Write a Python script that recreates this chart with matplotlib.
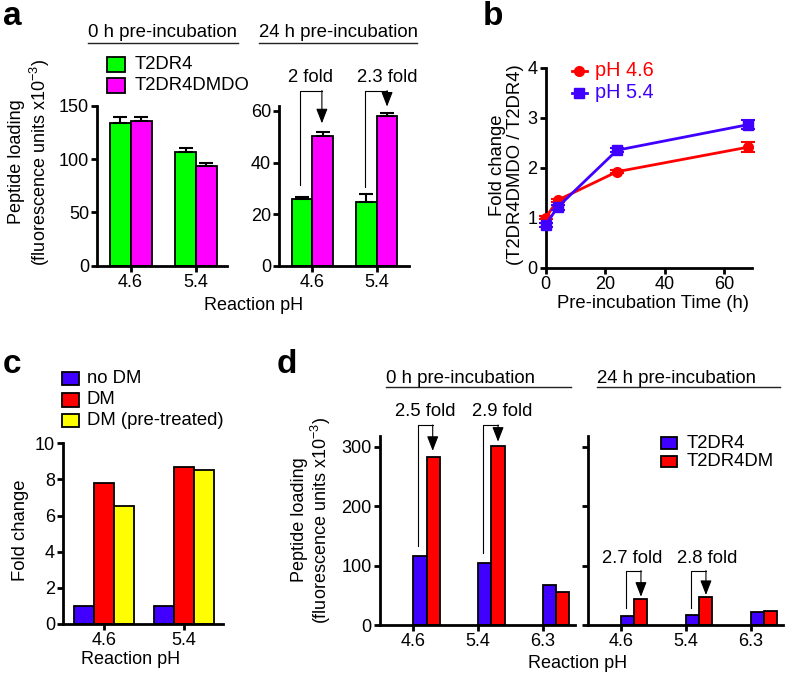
import matplotlib
matplotlib.use('Agg')
import matplotlib.pyplot as plt
import numpy as np
from matplotlib.patches import Rectangle

plt.rcParams['font.family'] = ['Liberation Sans', 'DejaVu Sans']
plt.rcParams['font.size'] = 13
plt.rcParams['mathtext.default'] = 'regular'

# ---------------- data ----------------
ph_ab = ['4.6', '5.4']
a0_t2dr4 = [134.3, 107.1]
a0_t2dr4_err = [5.4, 3.2]
a0_dmdo = [136.0, 93.6]
a0_dmdo_err = [3.7, 2.4]
a24_t2dr4 = [26.0, 24.6]
a24_t2dr4_err = [0.5, 3.3]
a24_dmdo = [50.2, 57.9]
a24_dmdo_err = [1.5, 1.5]
a24_folds = ['2 fold', '2.3 fold']

b_time = [0, 4, 24, 68]
b_ph46 = [1.0, 1.35, 1.92, 2.41]
b_ph46_err = [0.03, 0.03, 0.03, 0.10]
b_ph54 = [0.86, 1.21, 2.35, 2.86]
b_ph54_err = [0.04, 0.05, 0.04, 0.09]

c_ph = ['4.6', '5.4']
c_nodm = [1.0, 1.0]
c_dm = [7.8, 8.7]
c_dmpre = [6.55, 8.55]

d_ph = ['4.6', '5.4', '6.3']
d0_t2dr4 = [116, 104, 67]
d0_dm = [282, 302, 56]
d24_t2dr4 = [15, 17, 22.5]
d24_dm = [43, 46.5, 23.5]
d0_folds = ['2.5 fold', '2.9 fold']
d24_folds = ['2.7 fold', '2.8 fold']

GREEN = '#00FF00'
MAGENTA = '#FF00FF'
RED = '#FF0000'
BLUE = '#3F00FF'
YELLOW = '#FFFF00'

W, H = 787, 675
fig = plt.figure(figsize=(W / 100, H / 100), dpi=100)


def add_ax(x0, x1, ytop, ybot):
    return fig.add_axes([x0 / W, 1 - ybot / H, (x1 - x0) / W, (ybot - ytop) / H])


def style(ax):
    for s in ['top', 'right']:
        ax.spines[s].set_visible(False)
    for s in ['left', 'bottom']:
        ax.spines[s].set_linewidth(2)
    ax.tick_params(width=2, length=4, direction='out', labelsize=13, pad=2)


BAR_KW = dict(edgecolor='black', linewidth=1.3)
ERR_KW = dict(ecolor='black', elinewidth=1.5, capsize=5, capthick=1.5)


def fold(ax, xl, xr, ybot, ytop, ytip, text, xt, yt):
    ax.plot([xl, xl, xr], [ybot, ytop, ytop], color='black', lw=0.8, clip_on=False)
    ax.annotate('', xy=(xr, ytip), xytext=(xr, ytop),
                arrowprops=dict(arrowstyle='-|>,head_length=0.9,head_width=0.35',
                                color='black', lw=0.8, shrinkA=0, shrinkB=0,
                                mutation_scale=10),
                annotation_clip=False)
    ax.text(xt, yt, text, ha='center', va='baseline', fontsize=13.3)


# ---------------- panel a ----------------
w = 0.32
xa = np.arange(len(ph_ab))
axa1 = add_ax(97.3, 227, 106, 265.7)
axa1.bar(xa - w / 2, a0_t2dr4, w, color=GREEN, yerr=[np.zeros(2), a0_t2dr4_err],
         error_kw=ERR_KW, **BAR_KW)
axa1.bar(xa + w / 2, a0_dmdo, w, color=MAGENTA, yerr=[np.zeros(2), a0_dmdo_err],
         error_kw=ERR_KW, **BAR_KW)
axa1.set_ylim(0, 150)
axa1.set_yticks([0, 50, 100, 150])
axa1.set_xlim(-0.51, 1.475)
axa1.set_xticks(xa)
axa1.set_xticklabels(ph_ab)
style(axa1)

axa2 = add_ax(279.3, 409, 105.8, 265.7)
axa2.bar(xa - w / 2, a24_t2dr4, w, color=GREEN, yerr=[np.zeros(2), a24_t2dr4_err],
         error_kw=ERR_KW, **BAR_KW)
axa2.bar(xa + w / 2, a24_dmdo, w, color=MAGENTA, yerr=[np.zeros(2), a24_dmdo_err],
         error_kw=ERR_KW, **BAR_KW)
axa2.set_ylim(0, 62)
axa2.set_yticks([0, 20, 40, 60])
axa2.set_xlim(-0.51, 1.50)
axa2.set_xticks(xa)
axa2.set_xticklabels(ph_ab)
style(axa2)
fold(axa2, -0.19, 0.15, 31.3, 67.9, 55.2, a24_folds[0], -0.03, 71.4)
fold(axa2, 0.82, 1.16, 30.5, 67.9, 61.7, a24_folds[1], 1.16, 71.4)

# ---------------- panel b ----------------
axb = add_ax(545.7, 751.7, 67.7, 267.7)
axb.errorbar(b_time, b_ph46, yerr=b_ph46_err, color=RED, marker='o', ms=7, lw=2,
             capsize=5, capthick=1.5, elinewidth=1.5, clip_on=False, zorder=3)
axb.errorbar(b_time, b_ph54, yerr=b_ph54_err, color=BLUE, marker='s', ms=7, lw=2,
             capsize=5, capthick=1.5, elinewidth=1.5, clip_on=False, zorder=4)
axb.set_xlim(0, 69.3)
axb.set_ylim(0, 4)
axb.set_xticks([0, 20, 40, 60])
axb.set_yticks([0, 1, 2, 3, 4])
style(axb)

# ---------------- panel c ----------------
wc = 0.25
xc = np.arange(len(c_ph))
axc = add_ax(63.3, 222.7, 443.3, 624)
axc.bar(xc - wc, c_nodm, wc, color=BLUE, **BAR_KW)
axc.bar(xc, c_dm, wc, color=RED, **BAR_KW)
axc.bar(xc + wc, c_dmpre, wc, color=YELLOW, **BAR_KW)
axc.set_ylim(0, 10)
axc.set_yticks([0, 2, 4, 6, 8, 10])
axc.set_xlim(-0.51, 1.49)
axc.set_xticks(xc)
axc.set_xticklabels(c_ph)
style(axc)

# ---------------- panel d ----------------
wd = 0.205
xd = np.arange(len(d_ph))
axd1 = add_ax(380, 575, 436, 625)
axd1.bar(xd + wd / 2, d0_t2dr4, wd, color=BLUE, **BAR_KW)
axd1.bar(xd + 1.5 * wd, d0_dm, wd, color=RED, **BAR_KW)
axd1.set_ylim(0, 318)
axd1.set_yticks([0, 100, 200, 300])
axd1.set_xlim(-0.515, 2.5)
axd1.set_xticks(xd)
axd1.set_xticklabels(d_ph)
style(axd1)
fold(axd1, 0.07, 0.30, 133, 336.5, 293, d0_folds[0], 0.19, 351.7)
fold(axd1, 1.08, 1.31, 120.6, 336.5, 308.4, d0_folds[1], 1.38, 351.7)

axd2 = add_ax(588.3, 783.3, 436, 625)
axd2.bar(xd + wd / 2, d24_t2dr4, wd, color=BLUE, **BAR_KW)
axd2.bar(xd + 1.5 * wd, d24_dm, wd, color=RED, **BAR_KW)
axd2.set_ylim(0, 318)
axd2.set_yticks([0, 100, 200, 300])
axd2.set_yticklabels([])
axd2.set_xlim(-0.5, 2.5)
axd2.set_xticks(xd)
axd2.set_xticklabels(d_ph)
style(axd2)
fold(axd2, 0.08, 0.31, 28, 91.4, 47.6, d24_folds[0], 0.17, 103.8)
fold(axd2, 1.08, 1.31, 28, 91.4, 50.5, d24_folds[1], 1.33, 103.8)

# ---------------- overlay (labels, legends, headers) ----------------
ov = fig.add_axes([0, 0, 1, 1], zorder=10)
ov.set_xlim(0, W)
ov.set_ylim(H, 0)
ov.axis('off')

# panel letters
for x, y, t in [(3, 25, 'a'), (483, 25, 'b'), (3, 373, 'c'), (277, 373, 'd')]:
    ov.text(x, y, t, fontsize=24, fontweight='bold', ha='left', va='baseline')


def header(x0, x1, y_text, y_line, text):
    ov.text(x0, y_text, text, ha='left', va='baseline', fontsize=13.4)
    ov.plot([x0, x1], [y_line, y_line], color='#222222', lw=1)


header(88, 238, 37, 42.7, '0 h pre-incubation')
header(259, 417, 37, 42.7, '24 h pre-incubation')
header(385.7, 570.7, 383, 386.7, '0 h pre-incubation')
header(596.7, 780, 383, 386.7, '24 h pre-incubation')


def legend_patch(x0, x1, yc, h, color, text, tx):
    ov.add_patch(Rectangle((x0, yc - h / 2), x1 - x0, h, facecolor=color,
                           edgecolor='black', linewidth=1.3))
    ov.text(tx, yc, text, ha='left', va='center', fontsize=13.3)


legend_patch(107, 125, 64.5, 14.4, GREEN, 'T2DR4', 135)
legend_patch(107, 125, 85.5, 14.4, MAGENTA, 'T2DR4DMDO', 135)

legend_patch(61.7, 79.3, 378.3, 13.3, BLUE, 'no DM', 87)
legend_patch(61.7, 79.3, 400, 13.3, RED, 'DM', 87)
legend_patch(61.7, 79.3, 420.7, 13.3, YELLOW, 'DM (pre-treated)', 87)

legend_patch(660.7, 677.3, 443.2, 11.7, BLUE, 'T2DR4', 686.7)
legend_patch(660.7, 677.3, 461.5, 11.7, RED, 'T2DR4DM', 686.7)

# panel b legend
ov.plot([571.7, 586.7], [71, 71], color=RED, lw=2)
ov.plot([579.2], [71], color=RED, marker='o', ms=7)
ov.text(595, 71, 'pH 4.6', color=RED, ha='left', va='center', fontsize=14.3)
ov.plot([571.7, 586.7], [92.7, 92.7], color=BLUE, lw=2)
ov.plot([579.2], [92.7], color=BLUE, marker='s', ms=7)
ov.text(595, 92.7, 'pH 5.4', color=BLUE, ha='left', va='center', fontsize=14.3)

# axis labels
ov.text(254, 306, 'Reaction pH', ha='center', va='center', fontsize=13)
ov.text(30, 162, 'Peptide loading\n(fluorescence units x10$^{-3}$)', rotation=90,
        ha='center', va='center', fontsize=13, linespacing=1.15)
ov.text(653, 304, 'Pre-incubation Time (h)', ha='center', va='center', fontsize=13.3)
ov.text(506.5, 165, 'Fold change\n(T2DR4DMDO / T2DR4)', rotation=90,
        ha='center', va='center', fontsize=13.3, linespacing=1.05)
ov.text(130.5, 660, 'Reaction pH', ha='center', va='center', fontsize=13)
ov.text(21, 530, 'Fold change', rotation=90, ha='center', va='center', fontsize=13.3)
ov.text(578, 663, 'Reaction pH', ha='center', va='center', fontsize=13)
ov.text(312, 520, 'Peptide loading\n(fluorescence units x10$^{-3}$)', rotation=90,
        ha='center', va='center', fontsize=13, linespacing=1.05)

fig.savefig('out.png', dpi=100)
